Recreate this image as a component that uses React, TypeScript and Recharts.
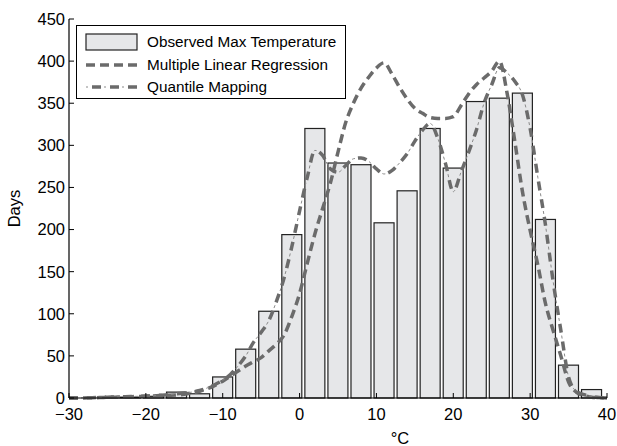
import { ComposedChart, Bar, Line, XAxis, YAxis, Legend } from "recharts";

// histogram bins (bin centre, °C) and observed counts
const binCenters = [-28, -25, -22, -19, -16, -13, -10, -7, -4, -1, 2, 5, 8, 11, 14, 17, 20, 23, 26, 29, 32, 35, 38];
const observedDays = [0, 1, 1, 2, 7, 5, 25, 58, 103, 194, 320, 279, 277, 208, 246, 320, 273, 352, 356, 362, 212, 39, 10];

// density curves read at every degree
const gridTemps = [
  -30, -29, -28, -27, -26, -25, -24, -23, -22, -21, -20, -19, -18, -17, -16, -15, -14, -13, -12, -11,
  -10, -9, -8, -7, -6, -5, -4, -3, -2, -1, 0, 1, 2, 3, 4, 5, 6, 7, 8, 9,
  10, 11, 12, 13, 14, 15, 16, 17, 18, 19, 20, 21, 22, 23, 24, 25, 26, 27, 28, 29,
  30, 31, 32, 33, 34, 35, 36, 37, 38, 39, 40,
];
const mlrDays = [
  0, 0, 0, 0.3, 0.5, 0.8, 1, 1.2, 1.5, 1.8, 2, 2.5, 3, 3.2, 3.5, 4.5, 6, 8, 11, 15,
  20, 26, 32, 38, 43, 48, 56, 64, 75, 97, 124, 160, 195, 225, 255, 292, 327, 350, 368, 381,
  392, 398, 385, 369, 355, 344, 338, 333, 332, 332, 334, 347, 361, 372, 380, 388, 400, 362, 305, 245,
  199, 158, 112, 80, 50, 19, 7, 3, 1, 0.5, 0,
];
const qmDays = [
  0, 0, 0.2, 0.4, 0.6, 1, 1.2, 1.5, 1.8, 2, 2.3, 2.8, 3.3, 4, 5, 6, 7, 9, 12, 16,
  21, 28, 38, 50, 66, 78, 92, 115, 143, 180, 222, 262, 294, 288, 272, 268, 276, 284, 285, 281,
  272, 266, 270, 279, 290, 305, 318, 326, 308, 278, 245, 268, 292, 318, 350, 372, 392, 386, 376, 360,
  320, 262, 205, 138, 80, 25, 8, 4, 2, 0.5, 0,
];

const xTicks = [-30, -20, -10, 0, 10, 20, 30, 40];
const yTicks = [0, 50, 100, 150, 200, 250, 300, 350, 400, 450];

const barData = binCenters.map((t, i) => ({ temp: t, observed: observedDays[i] }));
const curveData = gridTemps.map((t, i) => ({ temp: t, mlr: mlrDays[i], qm: qmDays[i] }));

const FONT = "'Liberation Sans', Arial, Helvetica, sans-serif";
const LINE = "#6b6b6b";
const BAR_W = 20;
const tickStyle = { fill: "#000", fontSize: 16.5, fontFamily: FONT };
const fmt = (v: number) => String(v).replace("-", "\u2212");

// bar band gets squeezed by the 1° curve data, so draw each bar at a fixed width around its centre
const HistBar = (props: any) => {
  const { x, y, width, height } = props;
  if (!height || height <= 0) return null;
  const cx = x + width / 2;
  return <rect x={cx - BAR_W / 2} y={y} width={BAR_W} height={height} fill="#e6e7e9" stroke="#222" strokeWidth={1.2} />;
};

const LegendBox = () => (
  <div
    style={{
      width: 270,
      height: 74,
      boxSizing: "border-box",
      border: "1.3px solid #000",
      background: "#fff",
      fontFamily: FONT,
      fontSize: 15.3,
      color: "#000",
      paddingTop: 5,
    }}
  >
    {["Observed Max Temperature", "Multiple Linear Regression", "Quantile Mapping"].map((name, i) => (
      <div key={name} style={{ display: "flex", alignItems: "center", height: 22.5 }}>
        <svg width={70} height={20} style={{ flexShrink: 0 }}>
          {i === 0 && <rect x={9} y={2} width={51} height={16} fill="#e6e7e9" stroke="#222" strokeWidth={1.2} />}
          {i === 1 && <line x1={9} x2={60} y1={10} y2={10} stroke={LINE} strokeWidth={3.5} strokeDasharray="9 5" />}
          {i === 2 && (
            <>
              <line x1={9} x2={60} y1={10} y2={10} stroke={LINE} strokeWidth={3.5} strokeDasharray="0 6 9 3" />
              <line x1={9} x2={60} y1={10} y2={10} stroke="#8a8a8a" strokeWidth={1} strokeDasharray="2 16" />
            </>
          )}
        </svg>
        <span>{name}</span>
      </div>
    ))}
  </div>
);

export default function App() {
  return (
    <div style={{ position: "fixed", left: 0, top: 0, background: "#fff" }}>
      <ComposedChart
        width={617}
        height={446}
        data={barData}
        margin={{ top: 19, right: 10, left: 0, bottom: 0 }}
      >
        <XAxis
          xAxisId="b"
          dataKey="temp"
          type="number"
          domain={[-30, 40]}
          ticks={xTicks}
          allowDataOverflow
          tickFormatter={fmt}
          tick={tickStyle}
          tickSize={-5}
          tickMargin={15.5}
          height={48}
          axisLine={{ stroke: "#000", strokeWidth: 1.2 }}
          tickLine={{ stroke: "#000" }}
          label={{ value: "°C", position: "insideBottom", offset: 2, dx: 62, fill: "#000", fontSize: 16.5, fontFamily: FONT }}
        />
        <XAxis
          xAxisId="t"
          orientation="top"
          dataKey="temp"
          type="number"
          domain={[-30, 40]}
          ticks={xTicks}
          allowDataOverflow
          tick={false}
          tickSize={-5}
          height={0}
          axisLine={{ stroke: "#000", strokeWidth: 1.2 }}
          tickLine={{ stroke: "#000" }}
        />
        <YAxis
          yAxisId="l"
          type="number"
          domain={[0, 450]}
          ticks={yTicks}
          tick={tickStyle}
          tickSize={-5}
          tickMargin={9}
          width={69}
          axisLine={{ stroke: "#000", strokeWidth: 1.2 }}
          tickLine={{ stroke: "#000" }}
          label={{ value: "Days", angle: -90, position: "center", dx: -20, fill: "#000", fontSize: 16.5, fontFamily: FONT }}
        />
        <YAxis
          yAxisId="r"
          orientation="right"
          type="number"
          domain={[0, 450]}
          ticks={yTicks}
          tick={false}
          tickSize={-5}
          width={0}
          axisLine={{ stroke: "#000", strokeWidth: 1.2 }}
          tickLine={{ stroke: "#000" }}
        />
        <Legend
          layout="vertical"
          align="center"
          verticalAlign="middle"
          content={() => <LegendBox />}
          wrapperStyle={{ left: 76, top: 25, width: 270, height: 74 }}
        />
        <Bar
          xAxisId="b"
          yAxisId="l"
          dataKey="observed"
          shape={HistBar}
          fill="#e6e7e9"
          stroke="#222"
          isAnimationActive={false}
        />
        <Line
          xAxisId="b"
          yAxisId="l"
          data={curveData}
          dataKey="mlr"
          type="monotone"
          stroke={LINE}
          strokeWidth={3.5}
          strokeDasharray="9 5"
          dot={false}
          activeDot={false}
          isAnimationActive={false}
        />
        <Line
          xAxisId="b"
          yAxisId="l"
          data={curveData}
          dataKey="qm"
          type="monotone"
          stroke={LINE}
          strokeWidth={3.5}
          strokeDasharray="9 9"
          dot={false}
          activeDot={false}
          isAnimationActive={false}
        />
        <Line
          xAxisId="b"
          yAxisId="l"
          data={curveData}
          dataKey="qm"
          type="monotone"
          stroke="#8a8a8a"
          strokeWidth={1}
          strokeDasharray="0 12 3 3"
          dot={false}
          activeDot={false}
          isAnimationActive={false}
        />
      </ComposedChart>
    </div>
  );
}
